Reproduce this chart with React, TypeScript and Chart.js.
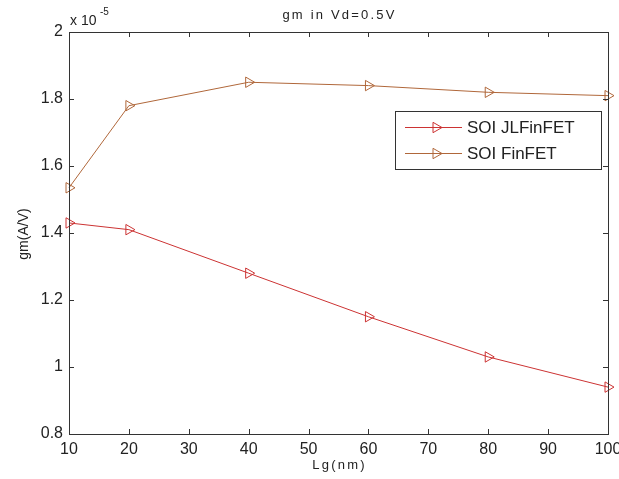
import React, { useEffect, useRef } from "react";
import { Chart, registerables } from "chart.js";

Chart.register(...registerables);

const lengths = [10, 20, 40, 60, 80, 100];
const jlFinFET = [1.43, 1.41, 1.28, 1.15, 1.03, 0.94];
const finFET = [1.535, 1.78, 1.85, 1.84, 1.82, 1.81];
const seriesNames = ["SOI JLFinFET", "SOI FinFET"];
const seriesColors = ["#cc3333", "#b0673a"];
const chartTitle = "gm in Vd=0.5V";
const xLabel = "Lg(nm)";
const yLabel = "gm(A/V)";

const AXIS = "#333333";
const FONT = "'Liberation Sans', Arial, sans-serif";

function drawMarker(ctx: CanvasRenderingContext2D, x: number, y: number, color: string) {
  const r = 6;
  ctx.save();
  ctx.strokeStyle = color;
  ctx.lineWidth = 1;
  ctx.beginPath();
  ctx.moveTo(x + r, y);
  ctx.lineTo(x - r / 2, y - (Math.sqrt(3) / 2) * r);
  ctx.lineTo(x - r / 2, y + (Math.sqrt(3) / 2) * r);
  ctx.closePath();
  ctx.stroke();
  ctx.restore();
}

const decorPlugin = {
  id: "decor",
  afterDraw(chart: any) {
    const ctx: CanvasRenderingContext2D = chart.ctx;
    const { left, right, top, bottom } = chart.chartArea;
    const xs = chart.scales.x;
    const ys = chart.scales.y;
    ctx.save();
    ctx.strokeStyle = AXIS;
    ctx.lineWidth = 1;
    ctx.strokeRect(Math.round(left) + 0.5, Math.round(top) + 0.5, Math.round(right - left), Math.round(bottom - top));
    const tl = 5;
    ctx.beginPath();
    xs.ticks.forEach((t: any) => {
      const px = Math.round(xs.getPixelForValue(t.value)) + 0.5;
      ctx.moveTo(px, bottom);
      ctx.lineTo(px, bottom - tl);
      ctx.moveTo(px, top);
      ctx.lineTo(px, top + tl);
    });
    ys.ticks.forEach((t: any) => {
      const py = Math.round(ys.getPixelForValue(t.value)) + 0.5;
      ctx.moveTo(left, py);
      ctx.lineTo(left + tl, py);
      ctx.moveTo(right, py);
      ctx.lineTo(right - tl, py);
    });
    ctx.stroke();

    ctx.fillStyle = "#222";
    ctx.textAlign = "center";
    ctx.textBaseline = "middle";
    (ctx as any).letterSpacing = "2.2px";
    ctx.font = `13px ${FONT}`;
    ctx.fillText(chartTitle, (left + right) / 2 + 1, 15);
    ctx.fillText(xLabel, (left + right) / 2 + 1, 465);
    (ctx as any).letterSpacing = "0px";
    ctx.save();
    ctx.translate(24, 234);
    ctx.rotate(-Math.PI / 2);
    ctx.font = `14px ${FONT}`;
    ctx.fillText(yLabel, 0, 0);
    ctx.restore();

    ctx.textAlign = "left";
    ctx.font = `14px ${FONT}`;
    ctx.fillText("x 10", 70, 21);
    ctx.font = `10px ${FONT}`;
    ctx.fillText("-5", 100, 12);

    const lx = 395, ly = 111, lw = 206, lh = 58;
    ctx.fillStyle = "#ffffff";
    ctx.fillRect(lx, ly, lw, lh);
    ctx.strokeStyle = AXIS;
    ctx.strokeRect(lx + 0.5, ly + 0.5, lw, lh);
    const rows = [127, 153];
    seriesNames.forEach((name, i) => {
      const y = rows[i];
      ctx.strokeStyle = seriesColors[i];
      ctx.lineWidth = 1;
      ctx.beginPath();
      ctx.moveTo(405, y + 0.5);
      ctx.lineTo(462, y + 0.5);
      ctx.stroke();
      drawMarker(ctx, 436, y + 0.5, seriesColors[i]);
      ctx.fillStyle = "#222";
      ctx.font = `17px ${FONT}`;
      ctx.textAlign = "left";
      ctx.textBaseline = "middle";
      ctx.fillText(name, 467, y + 1);
    });
    ctx.restore();
  },
};

export default function App() {
  const ref = useRef<HTMLCanvasElement | null>(null);
  useEffect(() => {
    if (!ref.current) return;
    const mk = (vals: number[]) => lengths.map((x, i) => ({ x, y: vals[i] }));
    const ds = (i: number, vals: number[]) => ({
      label: seriesNames[i],
      data: mk(vals),
      borderColor: seriesColors[i],
      backgroundColor: "rgba(0,0,0,0)",
      borderWidth: 1,
      pointStyle: "triangle",
      pointRotation: 90,
      pointRadius: 6,
      pointBorderWidth: 1,
      pointBorderColor: seriesColors[i],
      pointBackgroundColor: "rgba(0,0,0,0)",
      tension: 0,
      clip: false as any,
    });
    const chart = new Chart(ref.current, {
      type: "line",
      data: { datasets: [ds(0, jlFinFET), ds(1, finFET)] as any },
      options: {
        animation: false,
        responsive: false,
        layout: { padding: { top: 32, right: 11, left: 0, bottom: 0 } },
        plugins: { legend: { display: false }, title: { display: false }, tooltip: { enabled: false } },
        scales: {
          x: {
            type: "linear",
            min: 10,
            max: 100,
            grid: { display: false, drawTicks: false },
            border: { display: false },
            ticks: {
              stepSize: 10,
              padding: 6,
              color: "#222",
              maxRotation: 0,
              autoSkip: false,
              font: { family: FONT, size: 16 },
              callback: (v: any) => String(v),
            },
            afterFit: (s: any) => {
              s.height = 45;
              s.paddingLeft = 0;
              s.paddingRight = 0;
            },
          },
          y: {
            type: "linear",
            min: 0.8,
            max: 2,
            grid: { display: false, drawTicks: false },
            border: { display: false },
            ticks: {
              stepSize: 0.2,
              padding: 6,
              color: "#222",
              autoSkip: false,
              font: { family: FONT, size: 16 },
              callback: (v: any) => String(Math.round(Number(v) * 10) / 10),
            },
            afterFit: (s: any) => {
              s.width = 69;
              s.paddingTop = 0;
              s.paddingBottom = 0;
            },
          },
        },
      },
      plugins: [decorPlugin],
    });
    return () => chart.destroy();
  }, []);
  return (
    <div style={{ position: "fixed", left: 0, top: 0, width: 619, height: 479, background: "#fff" }}>
      <canvas ref={ref} width={619} height={479} style={{ display: "block" }} />
    </div>
  );
}
